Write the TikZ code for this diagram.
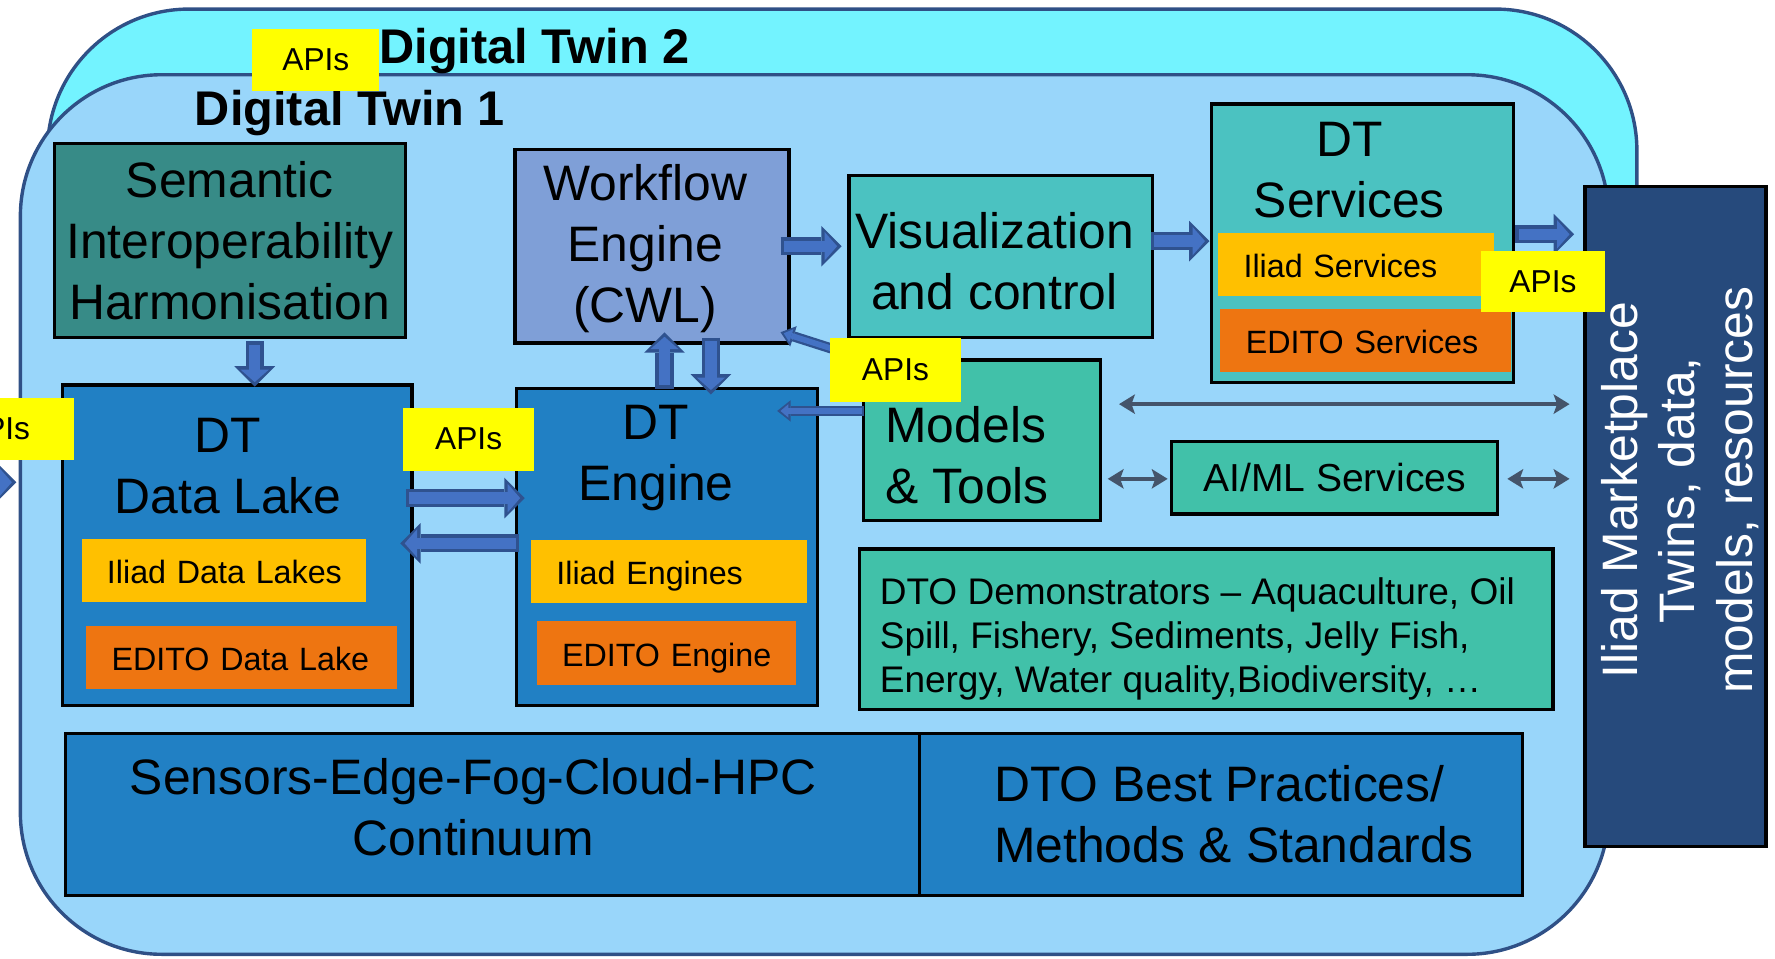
\documentclass[tikz,border=0pt]{standalone}
\usepackage{fontspec}
\setmainfont{Liberation Sans}
\usetikzlibrary{calc,arrows.meta}

\definecolor{twintwo}{HTML}{73F3FF}
\definecolor{twinone}{HTML}{99D6FA}
\definecolor{twinedge}{HTML}{2F5086}
\definecolor{semteal}{HTML}{378B87}
\definecolor{wfblue}{HTML}{7F9FD7}
\definecolor{visteal}{HTML}{4BC2C1}
\definecolor{modteal}{HTML}{41C1A9}
\definecolor{midblue}{HTML}{2180C4}
\definecolor{iliadgold}{HTML}{FFC000}
\definecolor{editoorange}{HTML}{EE7511}
\definecolor{apiyellow}{HTML}{FFFF00}
\definecolor{marketnavy}{HTML}{264A7C}
\definecolor{arrowfill}{HTML}{4472C4}
\definecolor{arrowedge}{HTML}{2F528F}
\definecolor{linkgray}{HTML}{44546A}

\newcommand{\fbig}{\fontsize{44}{54}\selectfont}
\newcommand{\fmarket}{\fontsize{44}{51}\selectfont}
\newcommand{\fsub}{\fontsize{28.5}{34}\selectfont}
\newcommand{\fdemo}{\fontsize{32.7}{39}\selectfont}
\newcommand{\fmid}{\fontsize{34.5}{41}\selectfont}
\newcommand{\ftwin}{\fontsize{43}{50}\selectfont\bfseries}

% block arrow = dark outline drawn first, blue body on top
\newcommand{\flowarrow}[3][block]{%
  \draw[#1edge] #2 -- #3;
  \draw[#1fill] #2 -- #3;}

\tikzset{
  twin/.style={draw=twinedge, line width=3pt, rounded corners=125pt},
  twinlabel/.style={font=\ftwin, anchor=base west, inner sep=0pt},
  box/.style={draw=black, line width=3pt, inner sep=0pt},
  bigtext/.style={font=\fbig, align=center, inner sep=0pt},
  subbox/.style={inner xsep=22.5pt, inner ysep=0pt, minimum height=56pt,
    align=left, font=\fsub, text height=25pt, text depth=2pt},
  apis/.style={fill=apiyellow, minimum width=112pt, minimum height=55pt,
    inner sep=0pt, font=\fontsize{28}{34}\selectfont},
  blockedge/.style={draw=arrowedge, line width=16pt,
    -{Triangle[length=18pt,width=36pt,line width=0pt]}},
  blockfill/.style={draw=arrowfill, line width=10pt, shorten >=4pt, shorten <=3pt,
    -{Triangle[length=11pt,width=25pt,line width=0pt]}},
  slimedge/.style={draw=arrowedge, line width=9pt,
    -{Triangle[length=12pt,width=19pt,line width=0pt]}},
  slimfill/.style={draw=arrowfill, line width=5pt, shorten >=3pt, shorten <=2pt,
    -{Triangle[length=7pt,width=12pt,line width=0pt]}},
  link/.style={draw=linkgray, line width=3.5pt,
    {Stealth[length=14pt,width=17pt,inset=3pt]}-{Stealth[length=14pt,width=17pt,inset=3pt]}}
}

\begin{document}
\begin{tikzpicture}[x=1pt,y=-1pt]
  \useasboundingbox (0,0) rectangle (1568,847);

  % the two twins
  \node[twin, fill=twintwo, minimum width=1404pt, minimum height=492pt] (dt2) at (744,254) {};
  \node[twin, fill=twinone, minimum width=1403pt, minimum height=777pt] (dt1) at (719.5,454.5) {};
  \node[twinlabel] (dt2lbl) at (335,56) {Digital Twin 2};
  \node[twinlabel] (dt1lbl) at (172,111) {Digital Twin 1};

  % top row
  \node[box, fill=semteal, minimum width=310pt, minimum height=171pt, font=\fbig, align=center]
    (sem) at (203,212.5) {Semantic\\Interoperability\\Harmonisation};
  \node[box, fill=wfblue, minimum width=242pt, minimum height=171pt] (wf) at (576,217.5) {};
  \node[bigtext] (wftxt) at (570,219.5) {Workflow\\Engine\\(CWL)};
  \node[box, fill=visteal, minimum width=268pt, minimum height=143pt] (vis) at (884,226.5) {};
  \node[bigtext] (vistxt) at (878.5,231) {Visualization\\and control};
  \node[box, fill=visteal, minimum width=267pt, minimum height=246pt] (svc) at (1203.5,215) {};
  \node[bigtext] (svctxt) at (1192,150.5) {DT\\Services};
  \node[subbox, fill=iliadgold, text width=199pt] (svciliad) at (1198,233.5) {\mbox{Iliad Services}};
  \node[subbox, fill=editoorange, text width=212pt] (svcedito) at (1206.5,301) {\mbox{EDITO Services}};

  % data lake and engine
  \node[box, fill=midblue, minimum width=309pt, minimum height=283pt] (lake) at (209.5,481.5) {};
  \node[bigtext] (laketxt) at (201.5,412) {DT\\Data Lake};
  \node[subbox, fill=iliadgold, text width=206pt] (lakeiliad) at (197.5,504) {\mbox{Iliad Data Lakes}};
  \node[subbox, fill=editoorange, text width=230pt] (lakeedito) at (213.5,581) {\mbox{EDITO Data Lake}};
  \node[box, fill=midblue, minimum width=266pt, minimum height=280pt] (eng) at (589,483) {};
  \node[bigtext] (engtxt) at (579.5,404.6) {DT\\Engine};
  \node[subbox, fill=iliadgold, text width=199pt] (engiliad) at (591,505) {\mbox{Iliad Engines}};
  \node[subbox, fill=editoorange, text width=184pt] (engedito) at (588.5,577) {\mbox{EDITO Engine}};

  % models, services, demonstrators
  \node[box, fill=modteal, minimum width=209pt, minimum height=142pt] (mod) at (867.5,389) {};
  \node[bigtext, anchor=west, align=left] (modtxt) at (782,402) {Models\\\& Tools};
  \node[box, fill=modteal, minimum width=288pt, minimum height=64pt, font=\fmid]
    (ai) at (1179,422) {AI/ML Services};
  \node[box, fill=modteal, minimum width=613pt, minimum height=142pt] (demo) at (1065.5,556) {};
  \node[font=\fdemo, anchor=west, align=left, inner sep=0pt] (demotxt) at (777,564.5)
    {DTO Demonstrators – Aquaculture, Oil\\Spill, Fishery, Sediments, Jelly Fish,\\Energy, Water quality,Biodiversity, …};

  % bottom row
  \node[box, fill=midblue, minimum width=754pt, minimum height=143pt] (sens) at (435,719.5) {};
  \node[bigtext] (senstxt) at (418,713) {Sensors-Edge-Fog-Cloud-HPC\\Continuum};
  \node[box, fill=midblue, minimum width=533pt, minimum height=143pt] (best) at (1078.5,719.5) {};
  \node[bigtext, anchor=west, align=left] (besttxt) at (878,719.5) {DTO Best Practices/\\Methods \& Standards};

  % marketplace
  \node[box, fill=marketnavy, minimum width=160pt, minimum height=583pt] (market) at (1480,456.5) {};
  \node[bigtext, font=\fmarket, text=white, rotate=90] (markettxt) at (1484,433)
    {Iliad Marketplace\\Twins, data,\\models, resources};

  % arrows
  \coordinate (ext) at (-40,426);
  \flowarrow{(ext)}{($(ext -| dt1.west)+(-2,0)$)}
  \flowarrow{($(sem.south)+(22,2)$)}{($(sem.south |- lake.north)+(22,3)$)}
  \flowarrow{($(wf.east)+(-9,0)$)}{($(wf.east -| vis.west)+(-5,0)$)}
  \flowarrow{($(vis.east)+(-3,-13.5)$)}{($(vis.east -| svc.west)+(0,-13.5)$)}
  \flowarrow{($(svc.east)+(0,-8)$)}{($(svc.east -| market.west)+(-8,-8)$)}
  \flowarrow{($(eng.north)+(-2,2)$)}{($(eng.north |- wf.south)+(-2,-11)$)}
  \flowarrow{($(wf.south)+(52,-6)$)}{($(wf.south |- eng.north)+(52,7)$)}
  \flowarrow{($(lake.east)+(-7,-41.5)$)}{($(lake.east -| eng.west)+(9,-41.5)$)}
  \flowarrow{($(eng.west)+(4,-3)$)}{($(eng.west -| lake.east)+(-12,-3)$)}
  \flowarrow[slim]{($(mod.west)+(2,-26)$)}{($(mod.west -| eng.east)+(-37,-26)$)}
  \flowarrow[slim]{(mod.north west)}{($(wf.south east)+(-9,-11)$)}
  \draw[link] ($(mod.east)+(15,-32)$) -- ($(mod.east -| market.west)+(-12,-32)$);
  \draw[link] ($(ai.west -| mod.east)+(5,1)$) -- ($(ai.west)+(-2,1)$);
  \draw[link] ($(ai.east)+(7,1)$) -- ($(ai.east -| market.west)+(-12,1)$);

  % API labels
  \node[apis] (apitop) at (279,53) {APIs};
  \node[apis, minimum width=136pt] (apileft) at (-3,379) {APIs};
  \node[apis, minimum width=116pt, minimum height=56pt] (apilake) at (414,388) {APIs};
  \node[apis, minimum width=116pt, minimum height=56pt] (apimod) at (791,327) {APIs};
  \node[apis, minimum width=110pt, minimum height=54pt] (apisvc) at (1363,249) {APIs};
\end{tikzpicture}
\end{document}
